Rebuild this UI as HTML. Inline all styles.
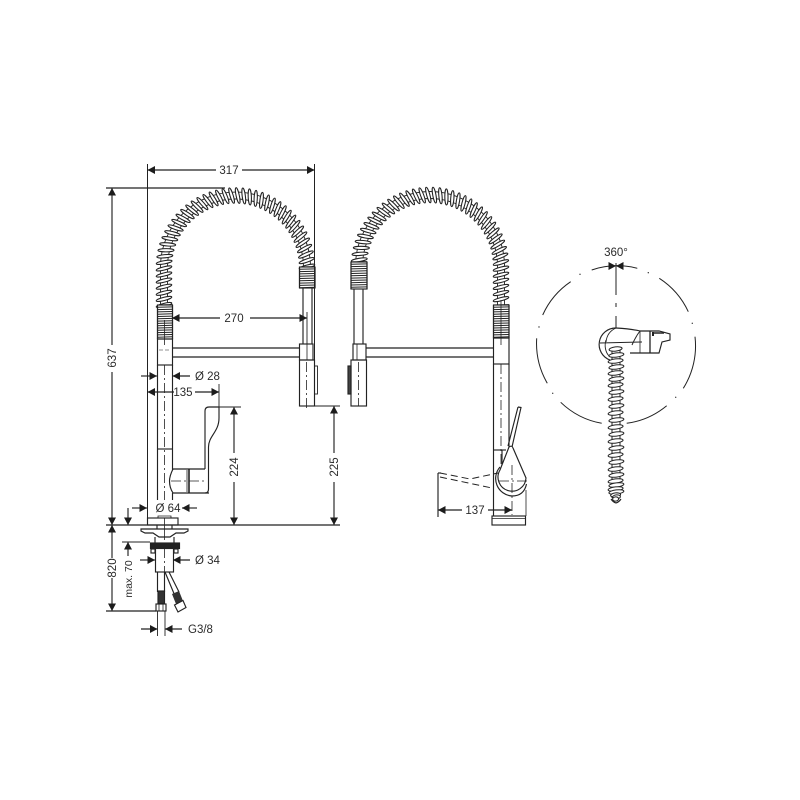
<!DOCTYPE html>
<html>
<head>
<meta charset="utf-8">
<style>
html,body{margin:0;padding:0;background:#fff;width:800px;height:800px;overflow:hidden}
svg{display:block}
text{font-family:"Liberation Sans",sans-serif;font-size:11.5px;fill:#2b2b2b}
</style>
</head>
<body>
<svg id="s" xmlns="http://www.w3.org/2000/svg" width="800" height="800" viewBox="0 0 800 800">
<rect width="800" height="800" fill="#fff"/>
<g id="g" fill="none" stroke="#222" stroke-width="1.15"></g>
<g id="t">
<rect x="216" y="164" width="26" height="12" fill="#fff"/>
<text x="229" y="174" text-anchor="middle">317</text>
<rect x="220" y="312" width="30" height="12" fill="#fff"/>
<text x="234" y="322" text-anchor="middle">270</text>
<text x="195" y="380">Ø 28</text>
<text x="192.500" y="396" text-anchor="end">135</text>
<text x="168" y="512" text-anchor="middle">Ø 64</text>
<text x="195" y="564">Ø 34</text>
<text x="188" y="633">G3/8</text>
<text transform="translate(116,358) rotate(-90)" text-anchor="middle">637</text>
<text transform="translate(116,568) rotate(-90)" text-anchor="middle">820</text>
<text transform="translate(132,579) rotate(-90)" text-anchor="middle" style="font-size:10.5px">max. 70</text>
<text transform="translate(238,467) rotate(-90)" text-anchor="middle">224</text>
<text transform="translate(338,467) rotate(-90)" text-anchor="middle">225</text>
<text x="475" y="514" text-anchor="middle">137</text>
<text x="616" y="256" text-anchor="middle">360°</text>
</g>
</svg>
<script>
var g=document.getElementById('g'),NS='http://www.w3.org/2000/svg';
function el(n,a){var e=document.createElementNS(NS,n);for(var k in a)e.setAttribute(k,a[k]);g.appendChild(e);return e}
function L(a,b,c,d,w,da){var o={x1:a,y1:b,x2:c,y2:d};if(w)o['stroke-width']=w;if(da)o['stroke-dasharray']=da;return el('line',o)}
function P(d,o){o=o||{};o.d=d;return el('path',o)}
function R(x,y,w,h,o){o=o||{};o.x=x;o.y=y;o.width=w;o.height=h;return el('rect',o)}
var DD='10 3 2 3';
function A(x,y,dir){var l=7.5,h=4,p;
 if(dir=='l')p=[x,y,x+l,y-h,x+l,y+h];
 if(dir=='r')p=[x,y,x-l,y-h,x-l,y+h];
 if(dir=='u')p=[x,y,x-h,y+l,x+h,y+l];
 if(dir=='d')p=[x,y,x-h,y-l,x+h,y-l];
 el('polygon',{points:p.join(' '),fill:'#1c1c1c',stroke:'none'})}
function coil(x,y,ang,rx,ry){el('ellipse',{cx:x,cy:y,rx:rx,ry:ry,fill:'#fff','stroke-width':1.05,transform:'rotate('+ang+' '+x+' '+y+')'})}
function spring(cx,cy,r,ySL,ySR){
 var pts=[],step=6.1,x,y,a;
 var leftLen=Math.max(ySL-cy,0),arc=Math.PI*r,rightLen=Math.max(ySR-cy,0),tot=leftLen+arc+rightLen;
 var tube=function(o){return 'M'+(cx-r-o)+' '+ySL+' V'+cy+' A'+(r+o)+' '+(r+o)+' 0 0 1 '+(cx+r+o)+' '+cy+(ySR>cy?' V'+ySR:'')};
 P(tube(3.5),{'stroke-width':.9});
 P(tube(-3.5),{'stroke-width':.9});
 for(var s=0;s<=tot;s+=step){
  if(s<leftLen){x=cx-r;y=ySL-s;a=0}
  else if(s<leftLen+arc){var t=(s-leftLen)/r;x=cx-r*Math.cos(t);y=cy-r*Math.sin(t);a=t*180/Math.PI}
  else{x=cx+r;y=cy+(s-leftLen-arc);a=180}
  pts.push([x,y,a]);
 }
 pts.forEach(function(p){coil(p[0],p[1],p[2]-14,8,1.6)});
}
function dense(x1,x2,y1,y2){
 R(x1,y1,x2-x1,y2-y1,{fill:'#fff'});
 for(var y=y1;y<=y2+.1;y+=2.3)L(x1,y,x2,y-.4,1);
 L(x1,y1,x1,y2);L(x2,y1,x2,y2);
}
/* ---- LEFT FAUCET ---- */
spring(235.5,267,71.5,305,267);
dense(157.5,172.5,305,339);
dense(299.5,315,267,288);
L(164.5,320,164.5,345,.8);
R(157.5,339,15,26);
L(172.5,348,300,348,1.3);L(172.5,357,300,357,1.3);
L(159,350,170,350,.5,'4 2');
L(157.5,365,157.5,500);L(172.5,365,172.5,470);L(157.5,449,172.5,449);
L(164.5,365,164.5,500,.8,DD);
L(303,288,303,344);L(312,288,312,344);
R(299.5,344,13.5,16);L(307,344,307,360,.8);
R(299.5,360,15,46);R(314.5,366,3,28,{'stroke-width':.9});
L(306.5,362,306.5,411,.8,DD);
/* lower body */
L(172.5,493,172.5,500);
R(147.5,518,30.5,7);
P('M158 518 V516 H171 V518',{'stroke-width':.8});
L(164.5,518,164.5,530,.8);
P('M173 469 H205 M173 469 C171 473 169.500 477 169.500 481 C169.500 486 171 490 173 493 H209');
L(189,469,189,493,1.6);L(187,470,187,492,.8);
P('M205 469 L205 411 Q205 407 209 407 H219 V418 C219 432 208.5 436 208.5 447 V489 Q208.5 493 205 493');
L(171,481,205,481,.8,DD);
/* under-counter */
P('M141 529 H188 V531 L184 533 H176 L170 537 H159 L153 533 H145 L141 531 Z');
L(157,525,157,529);L(172,525,172,529);
L(155,537,155,543);L(174,537,174,543);
R(150.5,543,29,5.5,{fill:'#222'});
R(151,549,4,4);R(174,549,4,4);
R(155.5,548.5,18,23.5,{fill:'#fff'});
L(164.5,530,164.5,572,.8,DD);
L(157.5,572,157.5,592);L(164.5,572,164.5,592);
R(158,591,6.5,12.5,{fill:'#333'});
R(156,604,10,7);
L(159,604,159,611,.8);L(163,604,163,611,.8);
P('M165 572 L175 596 M169 572 L179 592');
el('polygon',{points:'172,594 179,591 183,601 176,604',fill:'#333',stroke:'none'});
el('polygon',{points:'174.5,605 183,600.500 186,607.500 178,612',fill:'#fff'});
/* ---- MIDDLE FAUCET ---- */
spring(430,266,71,266,305);
dense(351,367,262,289);
dense(493.5,509,305,338);
L(501,300,501,345,.8);
L(354,289,354,344);L(363,289,363,344);
R(353,344,13,16);L(357,344,357,360,.8);
R(351,360,15.500,46);R(348,366,3,28,{fill:'#444'});
L(358.5,362,358.5,406,.8,DD);
R(493.5,338,15.5,26);
L(366,348,493.5,348,1.3);L(366,357,493.5,357,1.3);
L(493.5,364,493.5,516);L(509,364,509,450);
L(501,364,501,470,.8,DD);
L(493.5,450,506,450);L(502,450,502,470);
L(526,490,526,516,.8);
R(492,516,33.5,9);L(492,518.500,525.5,518.500,.8);
/* lever */
P('M518 407 L521 407.500 L512 447 M518 407 L508 446');
P('M509 447 Q512 445 513 448 L526 478 A14 14 0 1 1 500 470 Z',{fill:'#fff'});
P('M500 467 A17.500 17.500 0 0 0 512 496 Q524 496 526.500 484');
L(499,481,527,481,.8,DD);L(512,465,512,515,.8,DD);
/* dashed handle */
P('M440 473 L470 479 L498 473',{'stroke-dasharray':'7 4','stroke-width':1});
P('M440 477 L492 488',{'stroke-dasharray':'7 4','stroke-width':1});
L(438,473,438,517);L(438,473,441,473);
/* ---- RIGHT VIEW ---- */
var r=79.5,segs=[[591.7,270,637.3,268.3],[570.7,281.7,542.7,315,1],[536.7,338.3,547.3,383.3,1],[560.7,402.3,601.7,423.3,1],[626.7,423.3,666.7,405.7,1],[683.3,388.3,695,336.7,1],[688.3,311.7,659.3,278.3,1]];
segs.forEach(function(s){var sw=s[4]?0:1;P('M'+s[0]+' '+s[1]+' A'+r+' '+r+' 0 0 '+sw+' '+s[2]+' '+s[3],{'stroke-width':1})});
[[539,327],[552.700,393.300],[675.700,397.300],[692.300,323.300],[580,274.300],[648.300,272.700]].forEach(function(d){el('circle',{cx:d[0],cy:d[1],r:.7,fill:'#333',stroke:'none'})});
L(616,263,616,295,1);L(616,303,616,307,1);L(616,316,616,335,1);
/* head */
P('M616 328 L640 331 H659 L670 334 V340 L662 342 L659 353 H630 L623 360 L600 345 Z',{fill:'#fff',stroke:'none'});
P('M640 331 H659 L670 334 V340 L662 342 L659 353 H633 L630 353');
P('M632 345 Q636 336 640 331',{'stroke-width':1});
L(650,331,650,353,1.3);L(640,331,640,353,.8);
L(653,332,653,336,2);L(653,333,664,333,1.5);
P('M616 328 A16.500 16.500 0 0 0 610 360');
P('M616 328 Q632 329 640 331');
P('M606 340 A11 14 0 0 0 609 356 M616 328 Q607 332 606 342',{'stroke-width':.9});
L(600,343,642,342,1);
/* vertical spring */
var ys=[349,355,361,367,373,379,385,392,399,406,413,420,427,434,441,448,455,462,469,475,481,485,489,492,495,497,499];
L(612,350,612,498,1);L(620,350,620,498,1);
ys.forEach(function(y,i){var w=7.500;if(i>23)w=6-(i-23)*1;if(i==0)w=6.500;coil(616+(i%2?.4:-.4),y,-7,w,2.1)});
P('M611 499 Q613 502 616 503 Q619 502 621 499');
/* ---- DIMENSIONS ---- */
L(147.5,164,147.5,518,1);L(314.5,164,314.5,360,1);
L(147.5,170,314.5,170);A(147.5,170,'l');A(314.5,170,'r');
L(106,188,225,188);
L(112,188,112,345);L(112,372,112,525);A(112,188,'u');A(112,525,'d');
L(106,525,340,525);
L(172,318,307,318);A(172,318,'l');A(307,318,'r');
L(307,312,307,344,.9);
L(141,376,157,376);A(157,376,'r');L(172.5,376,190,376);A(172.5,376,'l');
L(147.5,392,174,392);L(195,392,219,392);A(147.5,392,'l');A(219,392,'r');
L(219,384,219,407,.9);
L(219,407,241,407,.9);
L(234,407,234,453);L(234,482,234,525);A(234,407,'u');A(234,525,'d');
L(314,406,340,406,.9);
L(334,406,334,453);L(334,482,334,525);A(334,406,'u');A(334,525,'d');
L(132,508,147,508);A(147,508,'r');L(182,508,197,508);A(182,508,'l');
L(128,508,128,525);A(128,525,'d');
L(128,542,128,556);A(128,542,'u');L(122,542,150,542,.9);
L(112,525,112,558);L(112,578,112,611);A(112,525,'u');A(112,611,'d');
L(106,611,156,611);
L(140,560,155,560);A(155,560,'r');L(173,560,190,560);A(173,560,'l');
L(157.5,611,157.5,636,.9);L(165,611,165,636,.9);
L(141,629,157.5,629);A(157.5,629,'r');L(165,629,182,629);A(165,629,'l');
L(438,510,462,510);L(488,510,512,510);A(438,510,'l');A(512,510,'r');
A(616,266,'r');A(616,266,'l');
</script>
</body>
</html>
